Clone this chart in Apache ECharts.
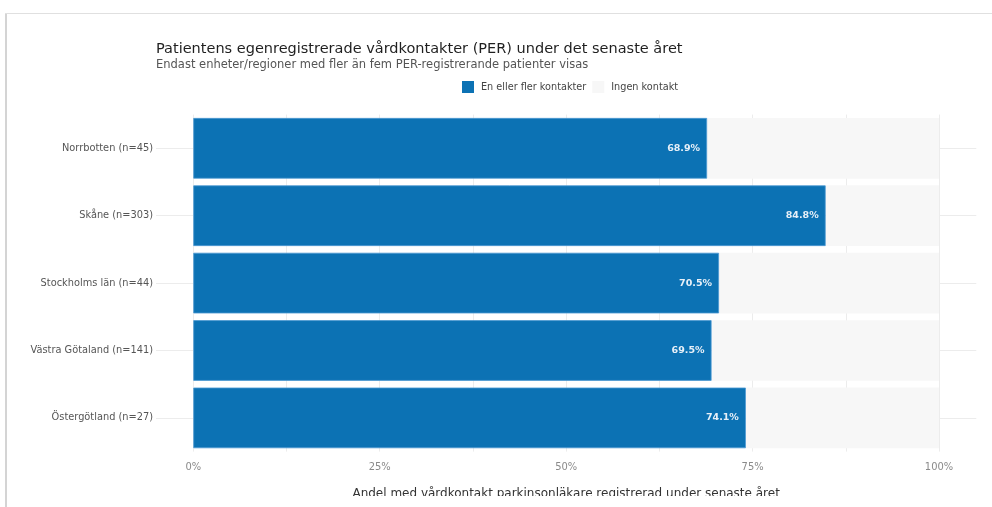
<!DOCTYPE html>
<html>
<head>
<meta charset="utf-8">
<script src="https://cdn.jsdelivr.net/npm/echarts@6/dist/echarts.min.js"></script>
<style>
  html, body { margin: 0; padding: 0; background: #ffffff; }
  #chart { width: 992px; height: 507px; }
</style>
</head>
<body>
<div id="chart"></div>
<script>
// Regions shown (top to bottom)
const categories = [
  'Norrbotten (n=45)',
  'Skåne (n=303)',
  'Stockholms län (n=44)',
  'Västra Götaland (n=141)',
  'Östergötland (n=27)'
];
// Share with one or more contacts (%)
const withContact = [68.9, 84.8, 70.5, 69.5, 74.1];
// Share with no contact (%)
const noContact = [31.1, 15.2, 29.5, 30.5, 25.9];
// Tick values on the percentage axis
const tickValues = [0, 25, 50, 75, 100];
// Vertical grid line positions
const gridValues = [0, 12.5, 25, 37.5, 50, 62.5, 75, 87.5, 100];

const chart = echarts.init(document.getElementById('chart'), null, { renderer: 'canvas' });

const fontMain = '"DejaVu Sans", sans-serif';

chart.setOption({
  backgroundColor: '#ffffff',
  animation: false,
  title: {
    text: 'Patientens egenregistrerade vårdkontakter (PER) under det senaste året',
    subtext: 'Endast enheter/regioner med fler än fem PER-registrerande patienter visas',
    left: 151,
    top: 37,
    itemGap: 2,
    textStyle: { fontFamily: fontMain, fontSize: 14.5, fontWeight: 500, color: '#1f1f1f' },
    subtextStyle: { fontFamily: fontMain, fontSize: 11.5, color: '#555555' }
  },
  legend: {
    left: 462,
    top: 81,
    padding: 0,
    itemWidth: 12,
    itemHeight: 12,
    itemGap: 6,
    icon: 'rect',
    itemStyle: { borderWidth: 0 },
    textStyle: { fontFamily: fontMain, fontSize: 9.7, color: '#444444', padding: [0, 0, 0, 2] },
    data: ['En eller fler kontakter', 'Ingen kontakt']
  },
  grid: {
    left: 156,
    width: 820.3,
    top: 114.6,
    height: 337,
    containLabel: false,
    outerBoundsMode: 'none'
  },
  xAxis: {
    type: 'value',
    min: -5,
    max: 105,
    axisLine: { show: false },
    axisTick: { show: false },
    splitLine: { show: false },
    axisLabel: {
      customValues: tickValues,
      formatter: v => v + '%',
      fontFamily: '"Liberation Sans Narrow", "DejaVu Sans Condensed", sans-serif',
      fontSize: 11,
      color: '#8a8a8a',
      margin: 10
    },
    name: 'Andel med vårdkontakt parkinsonläkare registrerad under senaste året',
    nameLocation: 'middle',
    nameGap: 36,
    nameTextStyle: { fontFamily: fontMain, fontSize: 12, color: '#333333' }
  },
  yAxis: {
    type: 'category',
    data: categories,
    inverse: true,
    axisLine: { show: false },
    axisTick: { show: false },
    splitLine: { show: false },
    axisLabel: {
      fontFamily: fontMain,
      fontSize: 9.8,
      color: '#555555',
      margin: 3
    }
  },
  series: [
    {
      name: 'En eller fler kontakter',
      type: 'bar',
      stack: 'total',
      data: withContact,
      barCategoryGap: '10%',
      z: 3,
      itemStyle: { color: '#0c72b4', borderColor: '#4b98d2', borderWidth: 0.8 },
      label: {
        show: true,
        position: 'insideRight',
        distance: 7,
        formatter: p => p.value.toFixed(1) + '%',
        fontFamily: fontMain,
        fontSize: 9.5,
        fontWeight: 'bold',
        color: '#e8f0f8'
      },
      // Background grid lines drawn beneath the bars
      markLine: {
        silent: true,
        z: 1,
        symbol: 'none',
        label: { show: false },
        lineStyle: { color: '#ececec', width: 1, type: 'solid' },
        data: gridValues.map(v => ({ xAxis: v }))
          .concat(categories.map(c => ({ yAxis: c })))
      }
    },
    {
      name: 'Ingen kontakt',
      type: 'bar',
      stack: 'total',
      data: noContact,
      z: 2,
      itemStyle: { color: '#f7f7f7' },
      label: { show: false }
    }
  ],
  graphic: [
    // hide the lower part of the axis title at the page edge
    { type: 'rect', left: 8, top: 496, shape: { width: 984, height: 11 }, style: { fill: '#ffffff' }, z: 100 },
    // page frame
    { type: 'rect', left: 5, top: 13, shape: { width: 2, height: 494 }, style: { fill: '#d4d4d4' }, z: 101 },
    { type: 'rect', left: 5, top: 13, shape: { width: 987, height: 1 }, style: { fill: '#e0e0e0' }, z: 101 }
  ]
});
</script>
</body>
</html>
